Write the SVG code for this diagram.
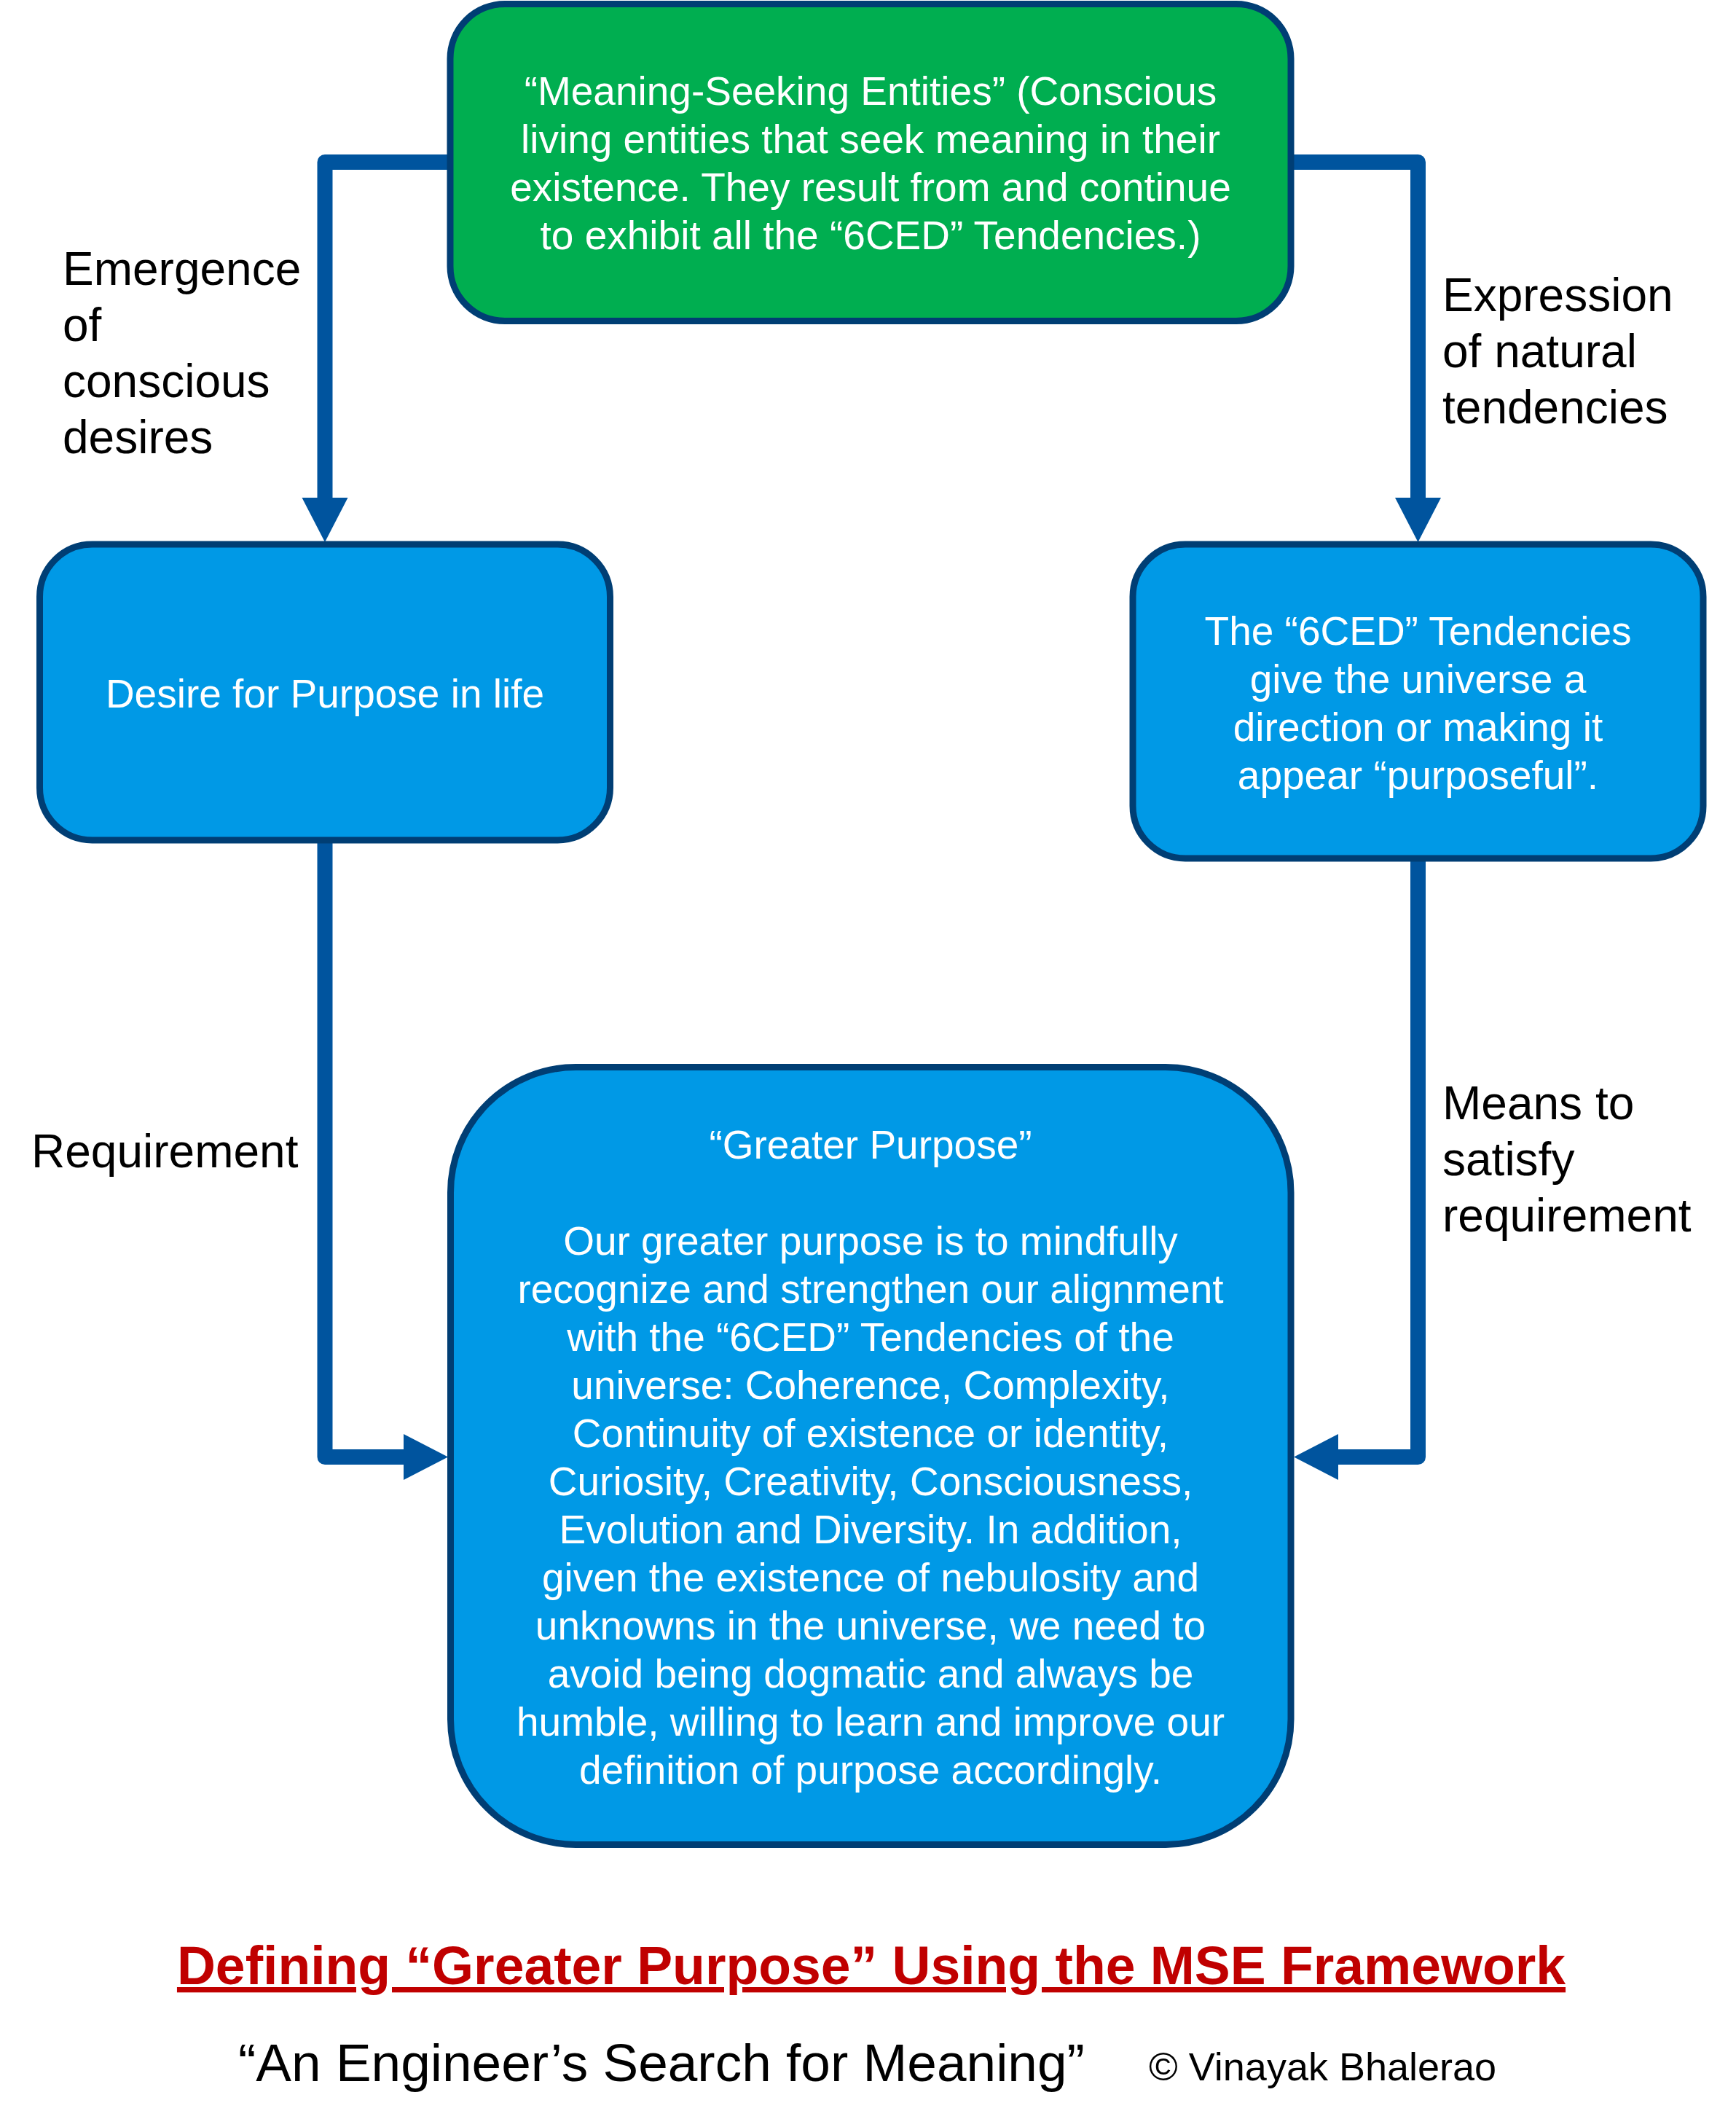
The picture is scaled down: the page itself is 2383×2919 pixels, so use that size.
<svg xmlns="http://www.w3.org/2000/svg" width="2383" height="2919" viewBox="0 0 2383 2919">
<defs>
<style>
.box{stroke:#003E74;stroke-width:9}
.green{fill:#00AE50}
.blue{fill:#0099E6}
.nt{font-family:"Liberation Sans",Arial,sans-serif;font-size:55px;fill:#FFFFFF;text-anchor:middle}
.lbl{font-family:"Liberation Sans",Arial,sans-serif;font-size:64px;fill:#000000}
.conn{fill:none;stroke:#00549E;stroke-width:21;stroke-linejoin:round;stroke-linecap:butt}
</style>
<marker id="ah" markerUnits="userSpaceOnUse" markerWidth="66" markerHeight="64" refX="3" refY="31.5" orient="auto" viewBox="0 0 66 64">
<path d="M0,0 L61,31.5 L0,63 Z" fill="#00549E"/>
</marker>
</defs>
<rect width="2383" height="2919" fill="#FFFFFF"/>
<g id="connectors">
<path class="conn" d="M630,222.5 H446 V686" marker-end="url(#ah)"/>
<path class="conn" d="M1760,222.5 H1946.5 V686" marker-end="url(#ah)"/>
<path class="conn" d="M446,1150 V1999.5 H557" marker-end="url(#ah)"/>
<path class="conn" d="M1946.5,1175 V1999.5 H1834" marker-end="url(#ah)"/>
</g>
<g id="node-mse">
<rect class="box green" x="618" y="5.5" width="1154" height="435" rx="75" ry="75"/>
<text class="nt" x="1195" y="144">“Meaning-Seeking Entities” (Conscious</text>
<text class="nt" x="1195" y="210">living entities that seek meaning in their</text>
<text class="nt" x="1195" y="276">existence. They result from and continue</text>
<text class="nt" x="1195" y="342">to exhibit all the “6CED” Tendencies.)</text>
</g>
<g id="node-desire">
<rect class="box blue" x="54.5" y="747" width="783" height="406" rx="72" ry="72"/>
<text class="nt" x="446" y="971">Desire for Purpose in life</text>
</g>
<g id="node-6ced">
<rect class="box blue" x="1555" y="747" width="783" height="431" rx="72" ry="72"/>
<text class="nt" x="1946.5" y="885">The “6CED” Tendencies</text>
<text class="nt" x="1946.5" y="951">give the universe a</text>
<text class="nt" x="1946.5" y="1017">direction or making it</text>
<text class="nt" x="1946.5" y="1083">appear “purposeful”.</text>
</g>
<g id="node-greater-purpose">
<rect class="box blue" x="618.5" y="1464.5" width="1153.5" height="1067" rx="172" ry="172"/>
<text class="nt" x="1195" y="1590">“Greater Purpose”</text>
<text class="nt" x="1195" y="1722">Our greater purpose is to mindfully</text>
<text class="nt" x="1195" y="1788">recognize and strengthen our alignment</text>
<text class="nt" x="1195" y="1854">with the “6CED” Tendencies of the</text>
<text class="nt" x="1195" y="1920">universe: Coherence, Complexity,</text>
<text class="nt" x="1195" y="1986">Continuity of existence or identity,</text>
<text class="nt" x="1195" y="2052">Curiosity, Creativity, Consciousness,</text>
<text class="nt" x="1195" y="2118">Evolution and Diversity. In addition,</text>
<text class="nt" x="1195" y="2184">given the existence of nebulosity and</text>
<text class="nt" x="1195" y="2250">unknowns in the universe, we need to</text>
<text class="nt" x="1195" y="2316">avoid being dogmatic and always be</text>
<text class="nt" x="1195" y="2382">humble, willing to learn and improve our</text>
<text class="nt" x="1195" y="2448">definition of purpose accordingly.</text>
</g>
<g id="labels">
<text class="lbl" x="86" y="391">Emergence</text>
<text class="lbl" x="86" y="468">of</text>
<text class="lbl" x="86" y="545">conscious</text>
<text class="lbl" x="86" y="622">desires</text>
<text class="lbl" x="1980" y="427">Expression</text>
<text class="lbl" x="1980" y="504">of natural</text>
<text class="lbl" x="1980" y="581">tendencies</text>
<text class="lbl" x="43" y="1602">Requirement</text>
<text class="lbl" x="1980" y="1536">Means to</text>
<text class="lbl" x="1980" y="1613">satisfy</text>
<text class="lbl" x="1980" y="1690">requirement</text>
</g>
<g id="title">
<text x="1196" y="2723" font-family="'Liberation Sans',Arial,sans-serif" font-size="73.3" font-weight="bold" fill="#C00000" text-anchor="middle" text-decoration="underline">Defining “Greater Purpose” Using the MSE Framework</text>
<text x="327" y="2856" font-family="'Liberation Sans',Arial,sans-serif" font-size="73" fill="#000000">“An Engineer’s Search for Meaning”</text>
<text x="1577" y="2855" font-family="'Liberation Sans',Arial,sans-serif" font-size="54" fill="#000000">© Vinayak Bhalerao</text>
</g>
</svg>
